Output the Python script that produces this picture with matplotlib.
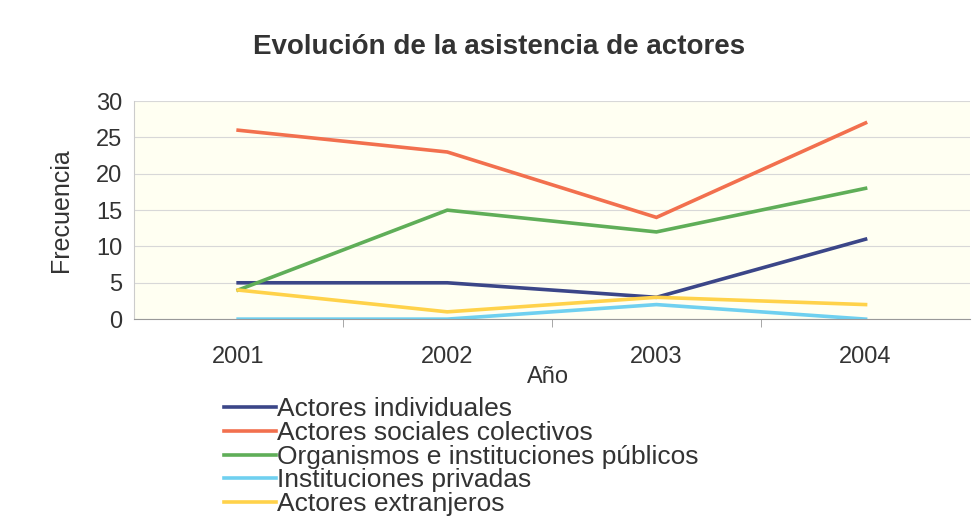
import numpy as np
import matplotlib.pyplot as plt

plt.rcParams['font.family'] = ['Liberation Sans', 'DejaVu Sans']
plt.rcParams['text.color'] = '#333333'
plt.rcParams['axes.labelcolor'] = '#333333'
plt.rcParams['xtick.color'] = '#333333'
plt.rcParams['ytick.color'] = '#333333'

years = ['2001', '2002', '2003', '2004']
individuales = [5, 5, 3, 11]
sociales = [26, 23, 14, 27]
organismos = [4, 15, 12, 18]
privadas = [0, 0, 2, 0]
extranjeros = [4, 1, 3, 2]

series = [
    ('Actores individuales', individuales, '#3b4688'),
    ('Actores sociales colectivos', sociales, '#f2704e'),
    ('Organismos e instituciones públicos', organismos, '#5fae58'),
    ('Instituciones privadas', privadas, '#6fd0f0'),
    ('Actores extranjeros', extranjeros, '#ffd24a'),
]

fig = plt.figure(figsize=(9.75, 5.24), dpi=100)
ax = fig.add_axes([0.137, 0.391, 0.858, 0.416])
ax.set_facecolor('#fffff2')

x = np.arange(len(years))
for name, vals, col in series:
    ax.plot(x, vals, color=col, lw=2.6, label=name, solid_joinstyle='miter')

ax.set_xlim(-0.5, 3.5)
ax.set_ylim(0, 30)
ax.set_yticks(np.arange(0, 31, 5))
ax.set_xticks(x)
ax.set_xticklabels(years)
ax.set_xticks([0.5, 1.5, 2.5], minor=True)
ax.tick_params(axis='x', which='major', length=0, pad=19, labelsize=17)
ax.tick_params(axis='x', which='minor', length=6, color='#999999', direction='out')
ax.tick_params(axis='y', length=0, pad=8, labelsize=17)
ax.grid(axis='y', color='#d8d8d8', lw=0.8)
for s in ['top', 'right']:
    ax.spines[s].set_visible(False)
ax.spines['left'].set_color('#cccccc')
ax.spines['bottom'].set_color('#999999')

fig.text(0.512, 0.91, 'Evolución de la asistencia de actores', fontsize=20,
         fontweight='bold', ha='center', va='center')
ax.set_ylabel('Frecuencia', fontsize=18)
ax.yaxis.set_label_coords(-0.073, 0.5)
ax.set_xlabel('Año', fontsize=17)
ax.xaxis.set_label_coords(0.495, -0.215)

leg = fig.legend(loc='upper left', bbox_to_anchor=(0.219, 0.262), frameon=False,
                 fontsize=19, handlelength=1.95, handletextpad=0.05, labelspacing=-0.01,
                 borderaxespad=0)

fig.savefig('out.png', dpi=100)
